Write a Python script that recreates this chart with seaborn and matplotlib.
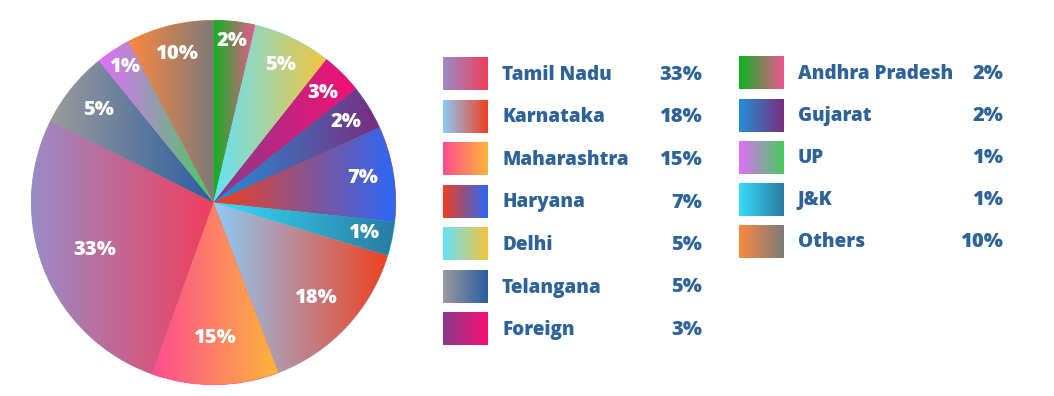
import numpy as np
import matplotlib
matplotlib.use("Agg")
import matplotlib.pyplot as plt
import seaborn as sns
from matplotlib.colors import LinearSegmentedColormap

sns.set_theme(style="white")
plt.rcParams['font.family'] = ['Open Sans', 'DejaVu Sans']

# ---- data ----
states = ["Andhra Pradesh", "Delhi", "Foreign", "Gujarat", "Haryana", "J&K",
          "Karnataka", "Maharashtra", "Tamil Nadu", "Telangana", "UP", "Others"]
# angular share of each slice as drawn (degrees)
slice_share = [13.3, 25.0, 13.1, 14.2, 30.5, 10.9, 52.1, 40.7, 96.8, 24.4, 11.2, 27.8]
# printed percentages
pct_labels = ["2%", "5%", "3%", "2%", "7%", "1%", "18%", "15%", "33%", "5%", "1%", "10%"]
legend_col1 = ["Tamil Nadu", "Karnataka", "Maharashtra", "Haryana", "Delhi", "Telangana", "Foreign"]
legend_col2 = ["Andhra Pradesh", "Gujarat", "UP", "J&K", "Others"]

# ---- styles ----
grad_colors = {
    "Andhra Pradesh": ("#0cb320", "#f0558f"),
    "Delhi": ("#64e2f8", "#f5c43c"),
    "Foreign": ("#8a3a8c", "#f70f74"),
    "Gujarat": ("#2290d6", "#7b2c7e"),
    "Haryana": ("#f03f20", "#2968f8"),
    "J&K": ("#36dcfc", "#2a7aa0"),
    "Karnataka": ("#8ecaf8", "#f03f1e"),
    "Maharashtra": ("#fd4c90", "#feb63a"),
    "Tamil Nadu": ("#9a8cc6", "#f03e5a"),
    "Telangana": ("#9b9b9b", "#2a5da2"),
    "UP": ("#e06ff9", "#45cd5c"),
    "Others": ("#fc8840", "#7c7a7a"),
}
label_r = [0.89, 0.84, 0.85, 0.85, 0.83, 0.84, 0.77, 0.745, 0.70, 0.81, 0.89, 0.84]
text_color = "#2e6399"
W, H = 1054, 396

fig = plt.figure(figsize=(W / 100, H / 100), dpi=100)
fig.patch.set_facecolor("white")

# pie axes: square in pixels
cx, cy, R = 213.5, 202.5, 182.5
ax = fig.add_axes([(cx - R) / W, (H - cy - R) / H, 2 * R / W, 2 * R / H])
wedges, _ = ax.pie(slice_share, startangle=90, counterclock=False, radius=1,
                   wedgeprops=dict(linewidth=0))
grad = np.linspace(0, 1, 256).reshape(1, -1)
for w, name in zip(wedges, states):
    c0, c1 = grad_colors[name]
    w.set_facecolor(c0)
    w.set_edgecolor(c0)
    w.set_linewidth(0.6)
    ext = w.get_path().get_extents()
    cmap = LinearSegmentedColormap.from_list(name, [c0, c1])
    im = ax.imshow(grad, cmap=cmap, extent=[ext.x0, ext.x1, ext.y0, ext.y1],
                   aspect='auto', interpolation='bilinear', zorder=3)
    im.set_clip_path(w)

for w, lab, r in zip(wedges, pct_labels, label_r):
    th = np.deg2rad((w.theta1 + w.theta2) / 2)
    ax.text(r * np.cos(th), r * np.sin(th), lab, color="white", fontsize=14.5,
            fontweight="heavy", ha="center", va="center", zorder=5)
ax.set_xlim(-1.002, 1.002)
ax.set_ylim(-1.002, 1.002)
ax.set_aspect("equal")
ax.axis("off")

# legend overlay in pixel coordinates
lax = fig.add_axes([0, 0, 1, 1])
lax.set_xlim(0, W)
lax.set_ylim(H, 0)
lax.axis("off")
lax.patch.set_alpha(0)


def legend_column(names, sw_x, top, step, text_x, pct_right):
    for i, name in enumerate(names):
        y0 = top + i * step
        c0, c1 = grad_colors[name]
        cmap = LinearSegmentedColormap.from_list("lg" + name, [c0, c1])
        lax.imshow(grad, cmap=cmap, extent=[sw_x, sw_x + 45, y0 + 32.5, y0],
                   aspect='auto', interpolation='bilinear')
        yc = y0 + 17
        lax.text(text_x, yc, name, color=text_color, fontsize=13.6, fontweight="heavy",
                 ha="left", va="center")
        lax.text(pct_right, yc, pct_labels[states.index(name)], color=text_color,
                 fontsize=14.5, fontweight="heavy", ha="right", va="center")


legend_column(legend_col1, 443, 58, 42.5, 502, 702)
legend_column(legend_col2, 739, 57, 42.1, 798, 1003)
lax.set_xlim(0, W)
lax.set_ylim(H, 0)

fig.savefig("out.png", dpi=100, facecolor="white")
